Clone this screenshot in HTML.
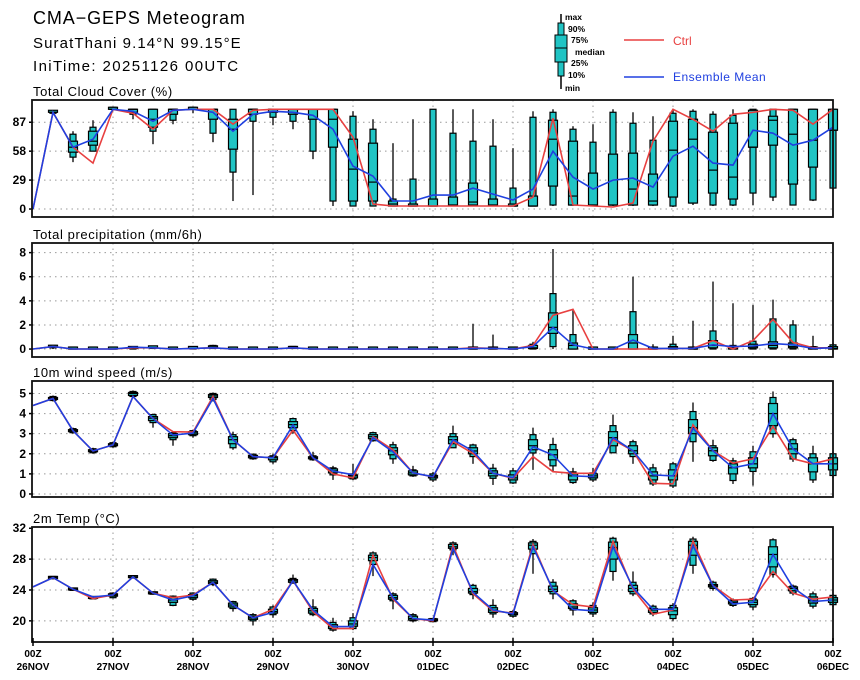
<!DOCTYPE html>
<html><head><meta charset="utf-8"><style>
body{margin:0;background:#fff;}
svg{display:block;font-family:"Liberation Sans",sans-serif;}
</style></head><body>
<svg id="chart" width="860" height="680" viewBox="0 0 860 680" xmlns="http://www.w3.org/2000/svg">
<text x="33" y="24" font-size="18" letter-spacing="0.9">CMA−GEPS Meteogram</text>
<text x="33" y="48" font-size="15" letter-spacing="1.1">SuratThani 9.14°N 99.15°E</text>
<text x="33" y="71" font-size="15" letter-spacing="1.4">IniTime: 20251126 00UTC</text>
<g>
<line x1="561" y1="14" x2="561" y2="89" stroke="#000" stroke-width="1.5"/>
<rect x="558" y="23" width="6" height="53" fill="#20c4c4" stroke="#000"/>
<rect x="555" y="35" width="12" height="27" fill="#20c4c4" stroke="#000"/>
<line x1="555" y1="48" x2="567" y2="48" stroke="#000"/>
<g font-size="8.5" font-weight="bold">
<text x="565" y="20">max</text><text x="568" y="32">90%</text><text x="571" y="43">75%</text>
<text x="575" y="55">median</text><text x="571" y="66">25%</text><text x="568" y="78">10%</text><text x="565" y="91">min</text>
</g>
<line x1="624" y1="40" x2="664" y2="40" stroke="#e84040" stroke-width="1.5"/>
<text x="673" y="45" font-size="12" fill="#e84040">Ctrl</text>
<line x1="624" y1="77" x2="664" y2="77" stroke="#2040e0" stroke-width="1.5"/>
<text x="673" y="81" font-size="12" fill="#2040e0" letter-spacing="0.5">Ensemble Mean</text>
</g>
</svg>
<script>
// ---- data (41 six-hourly steps from 26NOV 00Z) ----
const xLabelsTop = ["00Z","00Z","00Z","00Z","00Z","00Z","00Z","00Z","00Z","00Z","00Z"];
const xLabelsBottom = ["26NOV","27NOV","28NOV","29NOV","30NOV","01DEC","02DEC","03DEC","04DEC","05DEC","06DEC"];

const cloudTicks = [0,29,58,87];
const cloudCtrl = [0,97,62,46,100,96,80,99,100,100,85,99,100,100,100,100,72,5,3,3,3,3,3,3,3,12,91,4,3,2,6,68,100,90,78,95,97,100,99,85,100];
const cloudMean = [0,97,62,70,100,98,88,99,100,97,78,95,98,97,94,80,43,33,8,8,14,14,21,15,9,20,58,32,20,29,31,22,53,63,46,44,79,76,64,69,82];
const cloudBox = [null,[95,96,97,97,98,98,98],[47,52,57,62,68,75,78],[58,58,64,68,78,82,89],[99,100,100,100,100,100,100],[90,95,97,100,100,100,100],[65,78,82,90,100,100,100],[85,89,95,100,100,100,100],[96,100,100,100,100,100,100],[67,76,90,100,100,100,100],[8,37,60,80,90,100,100],[14,88,95,100,100,100,100],[84,92,97,100,100,100,100],[80,88,95,100,100,100,100],[50,58,90,100,100,100,100],[3,8,62,90,100,100,100],[3,3,8,40,70,93,98],[3,3,8,27,66,80,90],[3,3,3,5,8,10,66],[3,3,3,3,3,30,90],[3,3,3,3,10,100,100],[3,4,4,4,12,76,100],[3,4,4,7,26,68,100],[3,4,4,4,10,63,90],[3,3,3,3,3,21,61],[3,3,3,3,13,92,98],[3,4,23,70,89,97,100],[3,4,4,13,68,80,83],[3,4,4,4,36,67,85],[3,4,4,4,55,97,100],[3,4,4,20,56,86,97],[3,4,4,8,35,69,93],[2,3,12,59,88,96,100],[4,6,6,70,90,98,100],[3,4,16,39,77,95,98],[3,4,10,32,86,94,100],[4,16,62,62,99,100,100],[8,12,64,89,93,100,100],[4,4,25,75,100,100,100],[8,9,42,69,100,100,100],[20,21,79,79,100,100,100]];

const precTicks = [0,2,4,6,8];
const precCtrl = [0,0.2,0,0,0,0.1,0.1,0,0.05,0.1,0,0,0,0.1,0,0,0,0,0,0,0,0,0.1,0.05,0,0.3,2.8,3.3,0,0,0,0,0.05,0.05,0.7,0,0.7,2.45,0.55,0.1,0.1];
const precMean = [0,0.2,0,0,0,0.15,0.1,0,0.05,0.1,0,0,0,0.1,0,0,0,0,0,0,0,0,0.05,0.05,0,0.2,1.8,0.35,0,0,0.75,0.05,0.05,0.05,0.35,0.2,0.25,0.45,0.35,0.05,0.1];
const precBox = [null,[0,0.1,0.15,0.2,0.25,0.3,0.3],[0,0,0,0,0,0,0],[0,0,0,0,0,0,0],[0,0,0,0,0,0,0],[0,0,0.05,0.1,0.15,0.2,0.2],[0,0.05,0.1,0.1,0.15,0.2,0.25],[0,0,0,0,0,0,0],[0,0,0.05,0.05,0.1,0.15,0.2],[0,0.05,0.1,0.15,0.2,0.3,0.35],[0,0,0,0,0,0,0],[0,0,0,0,0,0,0],[0,0,0,0,0,0,0],[0,0.05,0.05,0.1,0.15,0.2,0.2],[0,0,0,0,0,0,0],[0,0,0,0,0,0,0],[0,0,0,0,0,0,0],[0,0,0,0,0,0,0],[0,0,0,0,0,0,0],[0,0,0,0,0,0,0],[0,0,0,0,0,0,0],[0,0,0,0,0,0,0],[0,0,0,0,0,0,2.1],[0,0,0,0,0,0,1.2],[0,0,0,0,0,0,0],[0,0,0.05,0.1,0.3,0.4,0.6],[0,0.2,1.3,1.8,3.0,4.6,8.3],[0,0,0,0.3,0.5,1.2,3.2],[0,0,0,0,0,0,0],[0,0,0,0,0,0,0],[0,0,0,0.5,1.2,3.1,6.0],[0,0,0,0,0,0,0.4],[0,0,0,0.1,0.2,0.4,1.1],[0,0,0,0,0,0,2.35],[0,0,0.1,0.3,0.7,1.5,5.6],[0,0,0,0.1,0.2,0.3,3.8],[0,0,0.1,0.2,0.4,0.65,3.65],[0,0,0.1,0.3,0.6,2.5,4.1],[0,0,0.1,0.2,0.5,2.0,2.4],[0,0,0,0.05,0.1,0.2,1.1],[0,0,0,0.05,0.2,0.35,0.5]];

const windTicks = [0,1,2,3,4,5];
const windCtrl = [4.4,4.75,3.15,2.14,2.44,4.85,3.75,3.1,3.08,4.85,2.7,1.86,1.8,3.18,1.8,1.0,0.8,2.85,2.2,1.05,0.85,2.6,2.02,1.03,0.78,1.86,1.11,1.03,1.03,2.7,2.15,0.53,0.5,3.44,2.15,1.53,1.75,3.36,1.75,1.5,1.75];
const windMean = [4.4,4.75,3.15,2.14,2.44,4.85,3.75,2.93,3.03,4.75,2.7,1.86,1.8,3.43,1.8,1.14,0.96,2.8,2.1,1.05,0.86,2.7,2.14,1.03,0.81,2.35,1.94,0.9,0.86,2.8,2.15,0.95,0.9,3.27,2.15,1.3,1.5,4.0,2.24,1.5,1.5];
const windBox = [null,[4.6,4.65,4.7,4.75,4.8,4.85,4.9],[3.0,3.05,3.1,3.15,3.2,3.25,3.3],[2.0,2.05,2.1,2.14,2.2,2.25,2.3],[2.3,2.35,2.4,2.44,2.5,2.55,2.6],[4.8,4.85,4.9,5.0,5.05,5.1,5.15],[3.3,3.55,3.65,3.77,3.85,3.95,4.0],[2.4,2.7,2.8,2.9,3.0,3.05,3.1],[2.8,2.9,2.95,3.03,3.1,3.15,3.2],[4.6,4.7,4.8,4.88,4.95,5.0,5.05],[2.2,2.3,2.5,2.7,2.85,2.95,3.1],[1.7,1.75,1.8,1.86,1.92,1.98,2.0],[1.5,1.6,1.7,1.8,1.85,1.9,2.0],[3.0,3.15,3.3,3.45,3.6,3.75,3.8],[1.65,1.7,1.75,1.8,1.85,1.9,2.1],[0.7,0.95,1.05,1.15,1.25,1.3,1.4],[0.7,0.75,0.8,0.9,0.95,1.0,1.5],[2.6,2.65,2.75,2.85,2.95,3.05,3.1],[1.5,1.75,1.95,2.15,2.3,2.45,2.6],[0.85,0.9,0.95,1.05,1.15,1.2,1.4],[0.6,0.7,0.8,0.86,0.92,1.0,1.1],[2.4,2.3,2.5,2.7,2.85,3.0,3.4],[1.5,1.86,2.0,2.14,2.3,2.44,2.5],[0.45,0.78,0.9,1.03,1.15,1.28,1.5],[0.5,0.55,0.7,0.8,0.95,1.15,1.3],[1.2,2.04,2.2,2.4,2.7,2.95,3.3],[1.1,1.4,1.7,1.95,2.2,2.46,2.8],[0.5,0.57,0.7,0.9,1.0,1.1,1.3],[0.6,0.7,0.8,0.9,1.0,1.05,1.3],[2.2,2.05,2.4,2.8,3.1,3.4,3.95],[1.5,1.86,2.0,2.15,2.4,2.6,2.7],[0.4,0.5,0.7,0.9,1.1,1.3,1.5],[0.3,0.4,0.7,0.9,1.2,1.5,1.6],[1.6,2.6,3.0,3.3,3.7,4.1,4.55],[1.6,1.67,1.9,2.15,2.3,2.4,2.7],[0.5,0.67,1.0,1.3,1.5,1.65,1.8],[0.42,1.12,1.3,1.5,1.8,2.1,2.4],[2.8,3.0,3.4,4.0,4.5,4.8,5.1],[1.6,1.74,2.0,2.24,2.5,2.7,2.8],[0.55,0.7,1.1,1.5,1.8,2.0,2.4],[0.8,0.92,1.2,1.5,1.8,2.0,2.1]];

const tempTicks = [20,24,28,32];
const tempCtrl = [24.4,25.6,24.1,22.9,23.35,25.7,23.6,23.0,23.35,25.0,22.05,20.4,21.5,25.2,21.2,19.0,19.0,28.5,22.8,20.3,20.0,29.8,23.5,21.3,21.0,29.9,23.9,22.1,21.8,30.3,24.1,20.85,21.4,30.35,24.55,22.7,22.8,26.4,23.6,22.8,23.1];
const tempMean = [24.4,25.6,24.1,23.1,23.35,25.7,23.6,22.7,23.25,25.0,22.05,20.4,21.1,25.2,21.4,19.25,19.25,27.3,23.0,20.3,20.1,29.4,23.7,21.4,20.9,29.6,24.0,21.5,21.3,29.6,24.3,21.5,21.5,29.75,24.55,22.2,22.4,28.6,24.3,22.5,22.7];
const tempBox = [null,[25.4,25.45,25.5,25.6,25.7,25.75,25.8],[23.9,23.95,24.0,24.1,24.2,24.25,24.3],[22.8,22.85,22.9,23.0,23.1,23.15,23.2],[22.9,23.0,23.2,23.35,23.5,23.6,23.7],[25.5,25.55,25.6,25.7,25.8,25.85,25.9],[23.4,23.45,23.5,23.6,23.7,23.75,23.8],[21.9,22.0,22.4,22.7,23.0,23.2,23.3],[22.6,22.8,23.0,23.25,23.4,23.6,23.7],[24.5,24.7,24.85,25.0,25.2,25.4,25.5],[21.2,21.6,21.8,22.05,22.3,22.5,22.6],[19.4,20.0,20.2,20.4,20.6,20.8,21.0],[20.4,20.8,21.0,21.2,21.5,21.8,22.0],[24.8,24.9,25.0,25.2,25.35,25.5,26.0],[20.6,20.8,21.0,21.3,21.6,21.8,22.8],[18.6,18.8,19.0,19.25,19.5,19.8,20.4],[18.8,19.0,19.3,19.6,20.0,20.4,21.0],[25.8,27.3,27.8,28.2,28.5,28.8,29.0],[21.5,22.6,22.8,23.0,23.3,23.5,23.7],[19.8,20.0,20.1,20.3,20.6,20.8,21.0],[19.8,19.9,20.0,20.1,20.2,20.3,20.4],[28.5,29.2,29.4,29.6,29.9,30.1,30.3],[22.8,23.4,23.6,23.8,24.2,24.6,24.8],[20.4,20.9,21.1,21.4,21.7,22.0,22.8],[20.4,20.6,20.8,20.9,21.0,21.2,21.4],[26.1,28.7,29.3,29.8,30.1,30.3,30.6],[22.8,23.5,23.8,24.1,24.5,25.0,25.4],[20.7,21.4,21.6,21.8,22.2,22.6,22.8],[20.5,20.9,21.1,21.4,21.7,22.0,22.4],[25.2,26.4,28.0,29.5,30.2,30.7,30.9],[23.2,23.5,23.8,24.2,24.6,25.0,26.4],[20.6,20.9,21.1,21.4,21.6,21.9,22.1],[20.0,20.3,20.8,21.3,21.7,22.0,22.3],[26.1,27.2,28.5,29.8,30.3,30.6,30.9],[23.9,24.2,24.4,24.55,24.7,25.0,25.2],[21.8,22.0,22.2,22.4,22.6,22.7,22.9],[21.4,21.8,22.1,22.4,22.7,22.9,23.1],[25.6,26.0,27.0,28.6,29.6,30.5,30.7],[23.3,23.6,23.9,24.2,24.4,24.5,24.7],[21.6,21.9,22.3,22.6,23.1,23.5,23.8],[21.8,22.1,22.4,22.7,23.0,23.3,23.5]];

// ---- layout ----
const NS = "http://www.w3.org/2000/svg";
const svg = document.getElementById('chart');
const X0 = 33, X1 = 833, NSTEP = 40;
function xScale(i){ return X0 + (X1 - X0) * i / NSTEP; }
function mk(tag, attrs, parent){ const e = document.createElementNS(NS, tag); for (const k in attrs) e.setAttribute(k, attrs[k]); (parent||svg).appendChild(e); return e; }

const panels = [
 {name:'cloud', title:'Total Cloud Cover (%)', top:100, bot:217, vmin:-8.0, vmax:109.3, ticks:cloudTicks, ctrl:cloudCtrl, mean:cloudMean, box:cloudBox},
 {name:'precip', title:'Total precipitation (mm/6h)', top:243, bot:357, vmin:-0.66, vmax:8.8, ticks:precTicks, ctrl:precCtrl, mean:precMean, box:precBox},
 {name:'wind', title:'10m wind speed (m/s)', top:381, bot:497, vmin:-0.15, vmax:5.62, ticks:windTicks, ctrl:windCtrl, mean:windMean, box:windBox},
 {name:'temp', title:'2m Temp (°C)', top:527, bot:642, vmin:17.26, vmax:32.16, ticks:tempTicks, ctrl:tempCtrl, mean:tempMean, box:tempBox}
];

panels.forEach(function(p, pi){
  function yScale(v){ return p.bot - (v - p.vmin) / (p.vmax - p.vmin) * (p.bot - p.top); }
  const g = mk('g', {});
  
  
  const t = mk('text', {x:33, y:p.top-4, 'font-size':13, 'letter-spacing':0.6}, g);
  t.textContent = p.title;
  
  
  for (let d = 1; d < 10; d++) {
    const gx = xScale(d*4);
    const gl = mk('line', {x1:gx, x2:gx, y1:p.top, y2:p.bot, stroke:'#999', 'stroke-dasharray':'1.5,4', 'stroke-width':1}, g);
    
    
  }
  p.ticks.forEach(function(tv){
    const ty = yScale(tv);
    if (ty > p.top + 3) {
      const hl = mk('line', {x1:X0, x2:X1, y1:ty, y2:ty, stroke:'#999', 'stroke-dasharray':'1.5,4', 'stroke-width':1}, g);
      
      
    }
    mk('line', {x1:X0-4, x2:X0, y1:ty, y2:ty, stroke:'#000', 'stroke-width':1.5}, g);
    const tl = mk('text', {x:X0-7, y:ty+4, 'font-size':12, 'font-weight':'bold', 'text-anchor':'end'}, g);
    tl.textContent = String(tv);
    
    
  });
  p.box.forEach(function(b, i){
    if (!b) return;
    const cx = xScale(i);
    const bg = mk('g', {}, g);
    
    
    mk('line', {x1:cx, x2:cx, y1:yScale(b[0]), y2:yScale(b[6]), stroke:'#222', 'stroke-width':1.5}, bg);
    const h1 = Math.max(yScale(b[1]) - yScale(b[5]), 2);
    mk('rect', {x:cx-3, y:Math.min(yScale(b[5]), yScale(b[1])-2), width:6, height:h1, fill:'#20c4c4', stroke:'#000', 'stroke-width':1.2}, bg);
    const h2 = Math.max(yScale(b[2]) - yScale(b[4]), 2);
    mk('rect', {x:cx-4.5, y:Math.min(yScale(b[4]), yScale(b[2])-2), width:9, height:h2, fill:'#20c4c4', stroke:'#000', 'stroke-width':1.2}, bg);
    mk('line', {x1:cx-4.5, x2:cx+4.5, y1:yScale(b[3]), y2:yScale(b[3]), stroke:'#000', 'stroke-width':1.2}, bg);
  });
  const pc = p.ctrl.map(function(v,i){ return xScale(i).toFixed(1)+','+yScale(v).toFixed(1); }).join(' ');
  const lc = mk('polyline', {points:pc, fill:'none', stroke:'#e84040', 'stroke-width':1.6}, g);
  
  
  const pm = p.mean.map(function(v,i){ return xScale(i).toFixed(1)+','+yScale(v).toFixed(1); }).join(' ');
  const lm = mk('polyline', {points:pm, fill:'none', stroke:'#2040e0', 'stroke-width':1.6}, g);
  
  
  const fr = mk('rect', {x:X0-1, y:p.top, width:X1-X0+1, height:p.bot-p.top, fill:'none', stroke:'#111', 'stroke-width':1.8}, g);
  
  
  if (pi === 3) {
    for (let d = 0; d <= 10; d++) {
      const gx = xScale(d*4);
      mk('line', {x1:gx, x2:gx, y1:p.bot-4, y2:p.bot+4, stroke:'#000', 'stroke-width':1.5}, g);
      const a = mk('text', {x:gx, y:p.bot+15, 'font-size':10, 'font-weight':'bold', 'text-anchor':'middle'}, g);
      a.textContent = xLabelsTop[d];
      
      
      const b2 = mk('text', {x:gx, y:p.bot+28, 'font-size':10, 'font-weight':'bold', 'text-anchor':'middle'}, g);
      b2.textContent = xLabelsBottom[d];
      
      
    }
  }
});
</script>
</body></html>
